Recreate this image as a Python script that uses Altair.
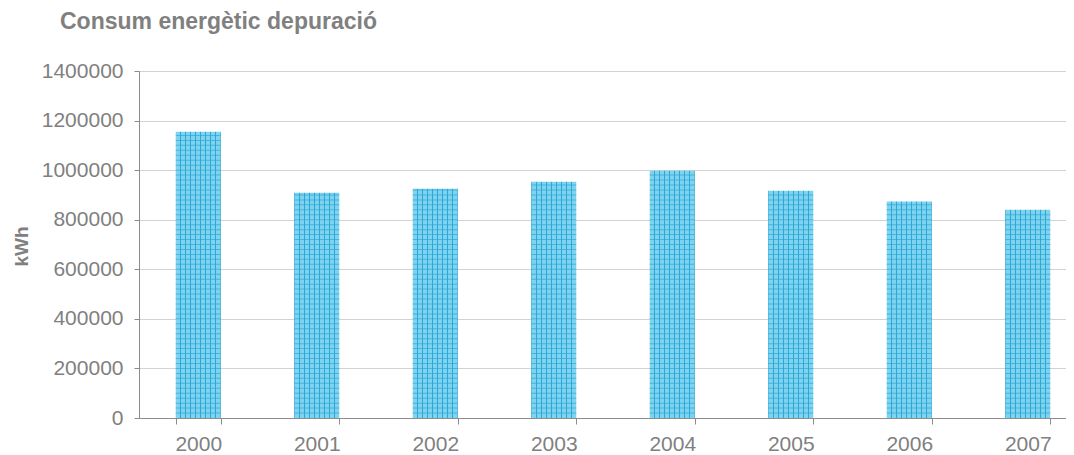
import altair as alt
import pandas as pd

# ---- data ----
years = ["2000", "2001", "2002", "2003", "2004", "2005", "2006", "2007"]
kwh = [1155000, 909000, 925000, 953000, 998000, 917000, 873000, 840000]
y_ticks = [0, 200000, 400000, 600000, 800000, 1000000, 1200000, 1400000]
title_text = "Consum energètic depuració"
y_title = "kWh"

df = pd.DataFrame({"year": years, "kwh": kwh})

GRAY = "#808080"
FONT = "Liberation Sans"
BASE = "#80d3ee"
LINE = "#2aa8d8"

# vertical stripes of the grid pattern, as a gradient across each bar
stops = []
n = 9
w = 0.025
for k in range(n + 1):
    c = k / n
    a = max(0.0, c - w / 2)
    b = min(1.0, c + w / 2)
    stops += [
        alt.GradientStop(offset=a, color=BASE),
        alt.GradientStop(offset=a, color=LINE),
        alt.GradientStop(offset=b, color=LINE),
        alt.GradientStop(offset=b, color=BASE),
    ]
grad = alt.LinearGradient(gradient="linear", stops=stops, x1=0, x2=1, y1=0, y2=0)

x_enc = alt.X(
    "year:N",
    scale=alt.Scale(range=[0, 948], paddingInner=0.62, paddingOuter=0.31),
    axis=alt.Axis(
        title=None, labelAngle=0, tickBand="extent", tickSize=6, labelPadding=9,
        labelFontSize=21, labelColor=GRAY, labelFont=FONT,
        domainColor="#8c8c8c", tickColor="#8c8c8c", grid=False,
    ),
)
y_axis = alt.Axis(
    title=y_title, values=y_ticks, format="d",
    labelFontSize=21, labelColor=GRAY, labelFont=FONT, labelPadding=11,
    tickSize=5, tickColor="#8c8c8c", domainColor="#8c8c8c",
    grid=True, gridColor="#d2d2d2", gridWidth=1,
    titleFont=FONT, titleFontSize=19, titleFontWeight="bold", titleColor=GRAY,
    titleX=-112, titleY=175, titleAngle=-90, titleAlign="center",
    titleBaseline="alphabetic",
)
y_scale = alt.Scale(domain=[0, 1400000], nice=False)

base = alt.Chart(df)

bars = base.mark_bar(color=grad).encode(
    x=x_enc,
    y=alt.Y("kwh:Q", scale=y_scale, axis=y_axis),
)

rows = base.transform_calculate(
    lvl="sequence(20000, datum.kwh, 20000)"
).transform_flatten(["lvl"]).mark_tick(
    color=LINE, thickness=1, size=45, opacity=0.7
).encode(
    x=x_enc,
    y=alt.Y("lvl:Q", scale=y_scale, axis=y_axis),
)

chart = alt.layer(bars, rows).properties(
    width=927,
    height=347,
    autosize="none",
    padding={"left": 131, "top": 63, "right": 0, "bottom": 36},
    title=alt.TitleParams(
        text=title_text, anchor="start", frame="group", dx=-79, offset=26,
        fontSize=23, fontWeight="bold", color=GRAY, font=FONT,
    ),
).configure_view(stroke=None).configure(background="white")

chart.save("out.html", embed_options={"renderer": "svg", "actions": False})
